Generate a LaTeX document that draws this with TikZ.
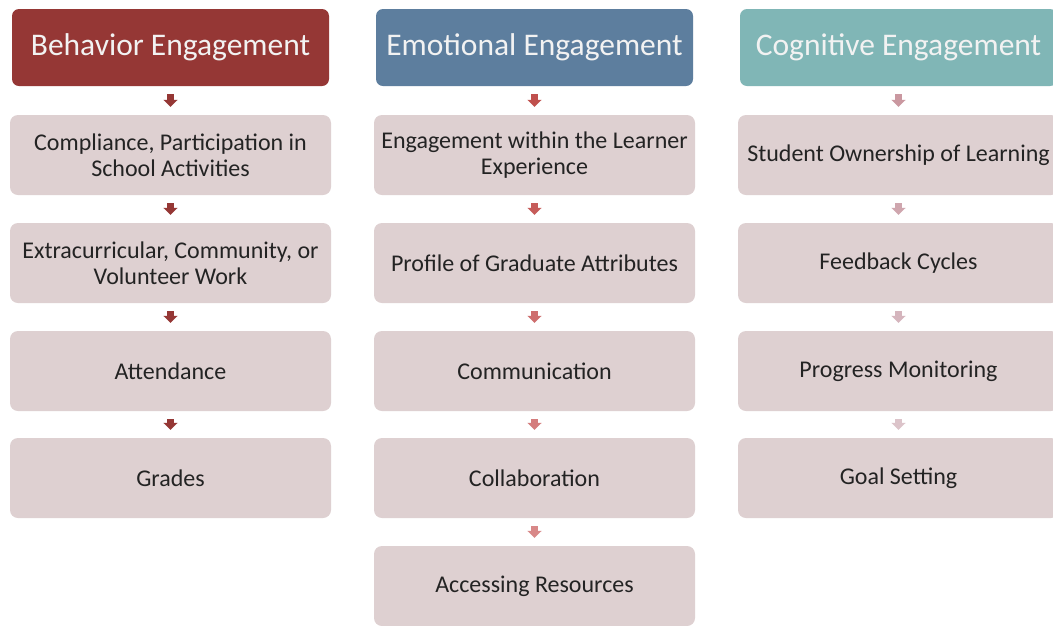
\documentclass[tikz,border=0pt]{standalone}
\usepackage{fontspec}
\setmainfont{Carlito}
\usetikzlibrary{arrows.meta}
\definecolor{hdrA}{RGB}{149,55,53}
\definecolor{hdrB}{RGB}{93,126,158}
\definecolor{hdrC}{RGB}{128,182,182}
\definecolor{hdrtext}{RGB}{242,242,242}
\definecolor{itemfill}{RGB}{222,208,209}
\definecolor{itemtext}{RGB}{35,35,35}
\definecolor{arA}{RGB}{149,55,53}
\definecolor{arBa}{RGB}{192,80,77}
\definecolor{arBb}{RGB}{198,92,90}
\definecolor{arBc}{RGB}{206,110,110}
\definecolor{arBd}{RGB}{212,124,124}
\definecolor{arBe}{RGB}{216,136,136}
\definecolor{arCa}{RGB}{202,152,160}
\definecolor{arCb}{RGB}{207,166,174}
\definecolor{arCc}{RGB}{213,181,189}
\definecolor{arCd}{RGB}{220,196,202}
\begin{document}
\begin{tikzpicture}[x=1pt,y=-1pt,
  hdr/.style={rounded corners=7pt, minimum width=317pt, minimum height=77pt, text=hdrtext, font=\fontsize{31.5}{36}\selectfont, inner sep=0pt},
  item/.style={fill=itemfill, rounded corners=8pt, minimum width=321pt, minimum height=80pt, text=itemtext, font=\fontsize{24}{26}\selectfont, align=center, inner sep=0pt},
  flow/.style={line width=7pt, -{Triangle[width=14pt,length=7pt]}, shorten <=8pt, shorten >=8pt}]
\useasboundingbox (0,0) rectangle (1053,625);
\clip (0,0) rectangle (1053,625);
\fill[white] (0,0) rectangle (1053,625);
% column 1
\node[hdr, fill=hdrA] (h1) at (170.5,47.5) {Behavior Engagement};
\node[item] (a1) at (170.5,155) {Compliance, Participation in\\School Activities};
\node[item] (a2) at (170.5,263) {Extracurricular, Community, or\\Volunteer Work};
\node[item] (a3) at (170.5,371) {Attendance};
\node[item] (a4) at (170.5,478) {Grades};
% column 2
\node[hdr, fill=hdrB] (h2) at (534.5,47.5) {Emotional Engagement};
\node[item] (b1) at (534.5,155) {Engagement within the Learner\\Experience};
\node[item] (b2) at (534.5,263) {Profile of Graduate Attributes};
\node[item] (b3) at (534.5,371) {Communication};
\node[item] (b4) at (534.5,478) {Collaboration};
\node[item] (b5) at (534.5,586) {Accessing Resources};
% column 3
\node[hdr, fill=hdrC] (h3) at (898.5,47.5) {Cognitive Engagement};
\node[item] (c1) at (898.5,155) {Student Ownership of Learning};
\node[item] (c2) at (898.5,263) {Feedback Cycles};
\node[item] (c3) at (898.5,371) {Progress Monitoring};
\node[item] (c4) at (898.5,478) {Goal Setting};
% arrows
\draw[flow, arA] (h1.south) -- (a1.north);
\draw[flow, arA] (a1.south) -- (a2.north);
\draw[flow, arA] (a2.south) -- (a3.north);
\draw[flow, arA] (a3.south) -- (a4.north);
\draw[flow, arBa] (h2.south) -- (b1.north);
\draw[flow, arBb] (b1.south) -- (b2.north);
\draw[flow, arBc] (b2.south) -- (b3.north);
\draw[flow, arBd] (b3.south) -- (b4.north);
\draw[flow, arBe] (b4.south) -- (b5.north);
\draw[flow, arCa] (h3.south) -- (c1.north);
\draw[flow, arCb] (c1.south) -- (c2.north);
\draw[flow, arCc] (c2.south) -- (c3.north);
\draw[flow, arCd] (c3.south) -- (c4.north);
\end{tikzpicture}
\end{document}
